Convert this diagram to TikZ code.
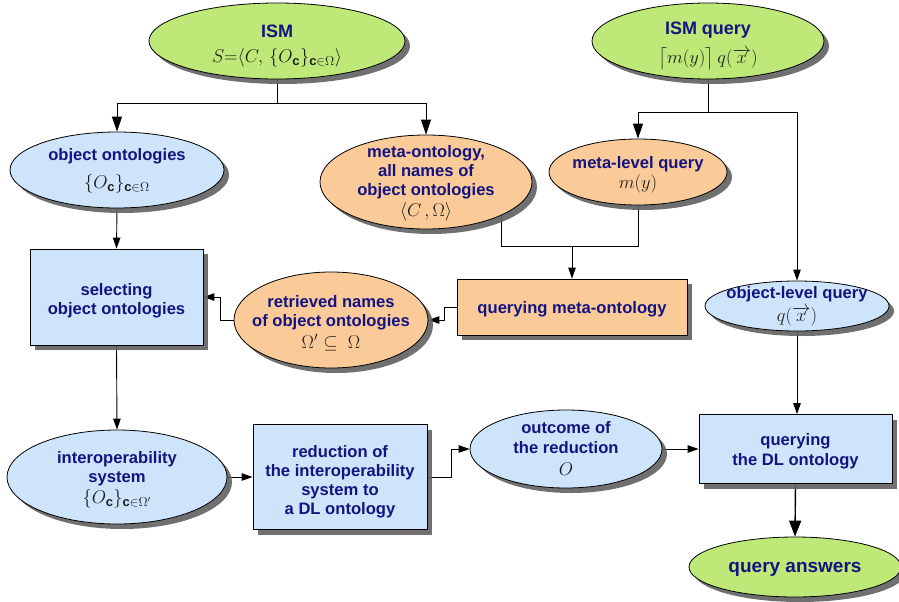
\documentclass[tikz,border=0pt]{standalone}
\usepackage{fix-cm}
\usepackage{amsmath}
\usepackage{amssymb}
\usepackage{fontspec}
\setmainfont{Liberation Sans}
\usetikzlibrary{shapes.geometric,arrows.meta,shadows,backgrounds}

\definecolor{ellgreen}{RGB}{190,232,120}
\definecolor{ellblue}{RGB}{206,228,250}
\definecolor{ellorange}{RGB}{250,202,152}
\definecolor{navy}{RGB}{20,20,128}
\definecolor{formcol}{RGB}{30,30,30}

% formulas under the labels: larger, dark grey
\newcommand\form[1]{{\fontsize{18.5}{20}\selectfont\color{formcol}$#1$}}
% headings of the green input / output ovals
\newcommand\headsize{\fontsize{18}{20}\selectfont}

\tikzset{
  shape base/.style={draw=black, line width=0.8pt, inner sep=0pt,
    drop shadow={shadow xshift=5pt, shadow yshift=-5pt, fill=black!62, opacity=0.9}},
  oval/.style={shape base, ellipse},
  boxnode/.style={shape base, rectangle, text=navy,
    font=\fontsize{16.6}{19}\selectfont\bfseries, align=center},
  txt/.style={text=navy, font=\fontsize{16.6}{19}\selectfont\bfseries,
    align=center, inner sep=0pt},
  gfill/.style={fill=ellgreen},
  bfill/.style={fill=ellblue},
  ofill/.style={fill=ellorange},
  link/.style={line width=0.9pt, draw=black},
  arr/.style={link, -{Triangle[length=11pt,width=7.5pt]}},
  bigarr/.style={link, -{Triangle[length=15pt,width=10pt]}},
  ansarr/.style={line width=1.4pt, draw=black, -{Triangle[length=16pt,width=12pt]}}
}

\begin{document}
\begin{tikzpicture}[x=1pt,y=-1pt]
\useasboundingbox (0,0) rectangle (899,602);

% ---- top inputs
\node[oval, gfill, minimum width=256, minimum height=76] (ism) at (277,41) {};
\node[txt, yshift=-5pt] (ism-t) at (ism) {{\headsize ISM}\\[6pt]
  \form{S{=}\langle C,\,\{O_{\textbf{c}}\}_{\textbf{c}\in\Omega}\rangle}};

\node[oval, gfill, minimum width=232, minimum height=76] (ismq) at (708,41) {};
\node[txt, yshift=-5pt] (ismq-t) at (ismq) {{\headsize ISM query}\\[8pt]
  \form{\bigl\lceil m(y)\bigr\rceil\, q(\overrightarrow{x})}};

% ---- second row
\node[oval, bfill, minimum width=214, minimum height=76] (objont) at (117,170) {};
\node[txt, yshift=-1pt] (objont-t) at (objont) {object ontologies\\[9pt]
  \form{\{O_{\textbf{c}}\}_{\textbf{c}\in\Omega}}};

\node[oval, ofill, minimum width=212, minimum height=94] (metaont) at (426,182) {};
\node[txt, yshift=-1pt] (metaont-t) at (metaont) {meta-ontology,\\ all names of\\ object ontologies\\[2pt]
  \form{\langle C\,,\Omega\rangle}};

\node[oval, ofill, minimum width=178, minimum height=66] (metaq) at (638,172) {};
\node[txt, yshift=-3pt] (metaq-t) at (metaq) {meta-level query\\[1pt] \form{m(y)}};

% ---- third row
\node[boxnode, bfill, minimum width=173, minimum height=96] (sel) at (116.5,297)
  {\rule{0pt}{19pt}selecting\\ object ontologies};

\node[oval, ofill, minimum width=194, minimum height=96] (retr) at (331,320) {};
\node[txt, yshift=-3pt] (retr-t) at (retr) {retrieved names\\ of object ontologies\\[3pt]
  \form{\Omega'\subseteq\ \Omega}};

\node[boxnode, ofill, minimum width=230, minimum height=56] (qmeta) at (572,307)
  {\rule{0pt}{16pt}querying meta-ontology};

\node[oval, bfill, minimum width=184, minimum height=50] (objq) at (797,306) {};
\node[txt] (objq-t) at (objq) {object-level query\\[4pt] \form{q(\overrightarrow{x})}};

% ---- fourth row
\node[oval, bfill, minimum width=220, minimum height=94] (interop) at (117,477) {};
\node[txt, yshift=-3pt] (interop-t) at (interop) {interoperability\\ system\\[2pt]
  \form{\{O_{\textbf{c}}\}_{\textbf{c}\in\Omega'}}};

\node[boxnode, bfill, minimum width=174, minimum height=105] (red) at (340,477)
  {\rule{0pt}{22pt}reduction of\\ the interoperability\\ system to\\ a DL ontology};

\node[oval, bfill, minimum width=192, minimum height=78] (outc) at (566,449) {};
\node[txt, yshift=1pt] (outc-t) at (outc) {outcome of\\[1pt] the reduction\\[3pt] \form{O}};

\node[boxnode, bfill, minimum width=193, minimum height=69] (dl) at (795.5,449)
  {\rule{0pt}{17pt}querying\\[1pt] the DL ontology};

\node[oval, gfill, minimum width=212, minimum height=60] (ans) at (795,567) {};
\node[txt, yshift=-2pt] (ans-t) at (ans) {\fontsize{19}{21}\selectfont query answers};

% ---- connectors, kept behind the shapes and their shadows
\begin{scope}[on background layer]
  \draw[link] (ism.south) -- ++(0,24) coordinate (ismj);
  \draw[bigarr] (ismj) -| (objont.north);
  \draw[bigarr] (ismj) -| (metaont.north);

  \draw[link] (ismq.south) -- ++(0,33) coordinate (ismqj);
  \draw[bigarr] (ismqj) -| (metaq.north);
  \draw[arr] (ismqj) -| (objq.north);

  \draw[link] (metaont.south east) -- (metaont.south east |- 0,246) coordinate (metaj)
     -- (metaj -| metaq.south) -- (metaq.south);
  \draw[arr] (metaj -| qmeta.north) -- (qmeta.north);

  \draw[arr] (qmeta.west) -- ++(-12,0) |- (retr.east);
  \draw[arr] (retr.west) -- ++(-13,0) |- (sel.east);

  \draw[arr] (objont.south) -- (sel.north);
  \draw[arr] (sel.south) -- (interop.north);
  \draw[arr] (interop.east) -- (red.west);
  \draw[arr] (red.east) -- ++(24,0) |- (outc.west);
  \draw[arr] (outc.east) -- (dl.west);
  \draw[arr] (objq.south) -- (objq.south |- dl.north);
  \draw[ansarr] (dl.south) -- (ans.north);
\end{scope}
\end{tikzpicture}
\end{document}
